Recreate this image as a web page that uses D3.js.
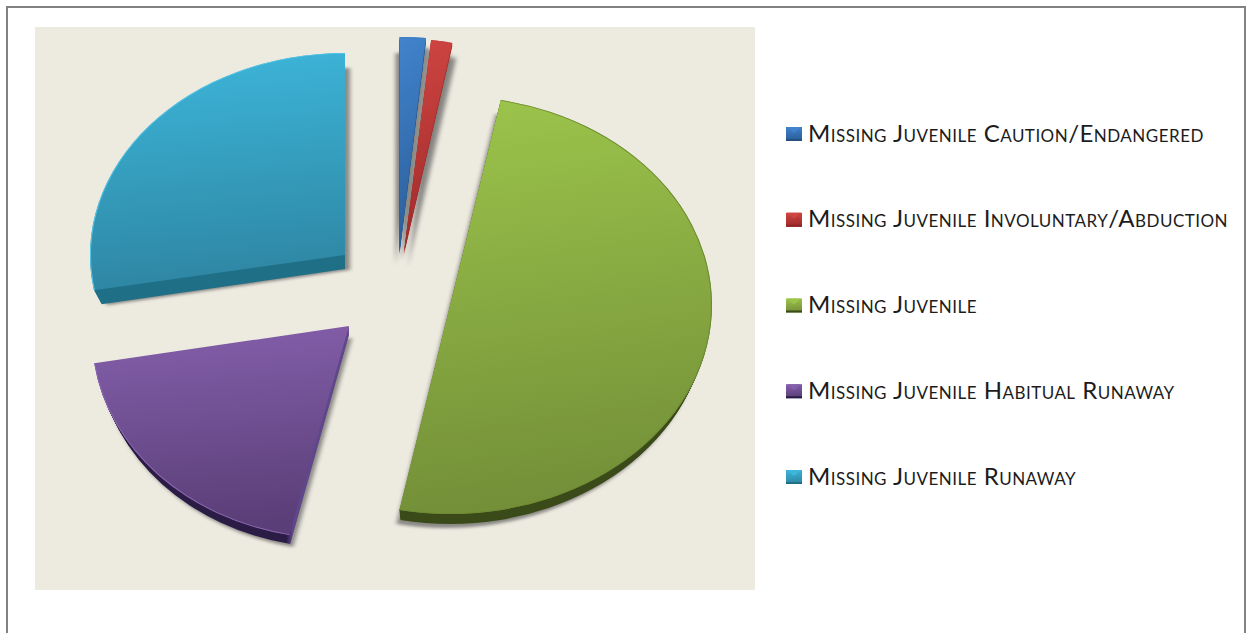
<!DOCTYPE html>
<html>
<head>
<meta charset="utf-8">
<title>Missing juveniles by category</title>
<script src="https://cdn.jsdelivr.net/npm/d3@7"></script>
<style>
  html, body { margin: 0; padding: 0; background: #fff; overflow: hidden; }
  svg { display: block; }
  .legend-label { font-family: Lato, "Open Sans", sans-serif; font-variant: small-caps; font-size: 24px; letter-spacing: 0.48px; fill: #1c1c1c; }
</style>
</head>
<body>
<svg id="chart" width="1246" height="633"></svg>
<script>
// values (share of the pie, in percent)
const categories = [
    "Missing Juvenile Caution/Endangered",
    "Missing Juvenile Involuntary/Abduction",
    "Missing Juvenile",
    "Missing Juvenile Habitual Runaway",
    "Missing Juvenile Runaway"
];
const shares = [1.6, 1.5, 50, 19.1, 27.8];

// colours per category
const faceTop = ["#4183cc", "#cf4542", "#9cc44b", "#845fab", "#3db6da"];
const faceBottom = ["#2b5e99", "#9e2b2a", "#738f38", "#5a3e77", "#2e86a3"];
const wallEdge = ["#24507f", "#8f2422", "#3a4a18", "#2a1c45", "#1f6f87"];
const wallStrip = ["#2a5c96", "#a32c2a", "#3a4a18", "#60468a", "#1f6f87"];
const rimColor = ["#3d7cc2", "#c84240", "#6d8a33", "#8a68b2", "#55c6e8"];

// exploded pie layout: tip of each slice, ellipse radii, lean, wall depth/narrowing, shadow shifts
const sliceLayout = [
    { x: 399.5, y: 249, rx: 262, ry: 212, lean: 0, wall: 5, shrink: 0, shadows: [[-4, 16], [3, 10]] },
    { x: 404, y: 251, rx: 228, ry: 212, lean: -0.02, wall: 3, shrink: 0, shadows: [[4, 15], [-3, 10]] },
    { x: 450, y: 305, rx: 262, ry: 209, lean: 0, wall: 10, shrink: 0.02, shadows: [[-4, 14]] },
    { x: 349, y: 326, rx: 257, ry: 213, lean: -0.048, wall: 9, shrink: 0.02, shadows: [[3, 12]] },
    { x: 345, y: 255, rx: 255, ry: 202, lean: 0, wall: 14, shrink: 0.03, shadows: [[5, 15]] }
];

const svg = d3.select("#chart");
const defs = svg.append("defs");

defs.append("filter").attr("id", "soft")
    .attr("x", "-20%").attr("y", "-20%").attr("width", "140%").attr("height", "140%")
    .append("feGaussianBlur").attr("stdDeviation", 2.2);

// outer frame, open at the bottom
svg.append("path")
    .attr("d", d3.line()([[7, 633], [7, 7], [1245, 7], [1245, 633]]))
    .attr("fill", "none")
    .attr("stroke", "#828282")
    .attr("stroke-width", 2);

// plot panel
svg.append("rect")
    .attr("x", 35).attr("y", 27)
    .attr("width", 720).attr("height", 563)
    .attr("fill", "#edeae0");

const pie = d3.pie().sort(null).startAngle(0).endAngle(2 * Math.PI);
const arcs = pie(shares);

// gradients
categories.forEach((c, i) => {
    const face = defs.append("linearGradient").attr("id", "face" + i)
        .attr("x1", 0.1).attr("y1", 0).attr("x2", 0.2).attr("y2", 1);
    face.append("stop").attr("offset", "0%").attr("stop-color", faceTop[i]);
    face.append("stop").attr("offset", "100%").attr("stop-color", faceBottom[i]);

    // wall: strip colour on the straight edge, darker under the curved edge
    const wall = defs.append("linearGradient").attr("id", "wall" + i)
        .attr("gradientUnits", "userSpaceOnUse")
        .attr("x1", -54).attr("y1", 0)
        .attr("x2", -48).attr("y2", 0);
    wall.append("stop").attr("offset", "0%").attr("stop-color", wallEdge[i]);
    wall.append("stop").attr("offset", "100%").attr("stop-color", wallStrip[i]);
});

const slices = svg.append("g").attr("class", "slices");

function placed(i, dx, dy, narrow = 1) {
    const s = sliceLayout[i];
    return `translate(${s.x + dx},${s.y + dy}) ` +
        `skewX(${Math.atan(s.lean) * 180 / Math.PI}) scale(${narrow},${s.ry / s.rx})`;
}

// shadows go first so no slice is covered by another slice's shadow
arcs.forEach((d, i) => {
    const s = sliceLayout[i];
    const path = d3.arc().innerRadius(0).outerRadius(s.rx)(d);
    s.shadows.forEach(([dx, dy]) => {
        slices.append("path")
            .attr("d", path)
            .attr("transform", placed(i, dx, dy, 1 - s.shrink))
            .attr("fill", "#4a4a4a")
            .attr("opacity", 0.6)
            .attr("filter", "url(#soft)");
    });
});

arcs.forEach((d, i) => {
    const s = sliceLayout[i];
    const path = d3.arc().innerRadius(0).outerRadius(s.rx)(d);

    // side wall: stacked copies between the face and its base
    slices.append("g").selectAll("path")
        .data(d3.range(1, s.wall + 1))
        .join("path")
        .attr("d", path)
        .attr("transform", t => placed(i, 0, t, 1 - s.shrink * t / s.wall))
        .attr("fill", `url(#wall${i})`);

    // top face
    slices.append("path")
        .attr("class", "slice")
        .attr("d", path)
        .attr("transform", placed(i, 0, 0))
        .attr("fill", `url(#face${i})`);

    // rim along the curved edge only
    const rim = d3.arc().innerRadius(s.rx - 1).outerRadius(s.rx)(d);
    slices.append("path")
        .attr("d", rim)
        .attr("transform", placed(i, 0, 0))
        .attr("fill", rimColor[i]);
});

// legend
const legendY = d3.scalePoint().domain(categories).range([134, 477]);
const legend = svg.append("g").attr("class", "legend");

categories.forEach((c, i) => {
    const y = legendY(c);
    const row = legend.append("g").attr("transform", `translate(786,${y})`);
    row.append("rect")
        .attr("x", 0).attr("y", -7)
        .attr("width", 16).attr("height", 14)
        .attr("fill", `url(#face${i})`);
    row.append("path")
        .attr("d", d3.line()([[1, -7], [15, -7], [8, -1]]))
        .attr("fill", faceTop[i]);
    row.append("rect")
        .attr("x", 0).attr("y", 5)
        .attr("width", 16).attr("height", 2)
        .attr("fill", wallEdge[i]);
    row.append("text")
        .attr("class", "legend-label")
        .attr("x", 22)
        .attr("y", 7.5)
        .text(c);
});
</script>
</body>
</html>
